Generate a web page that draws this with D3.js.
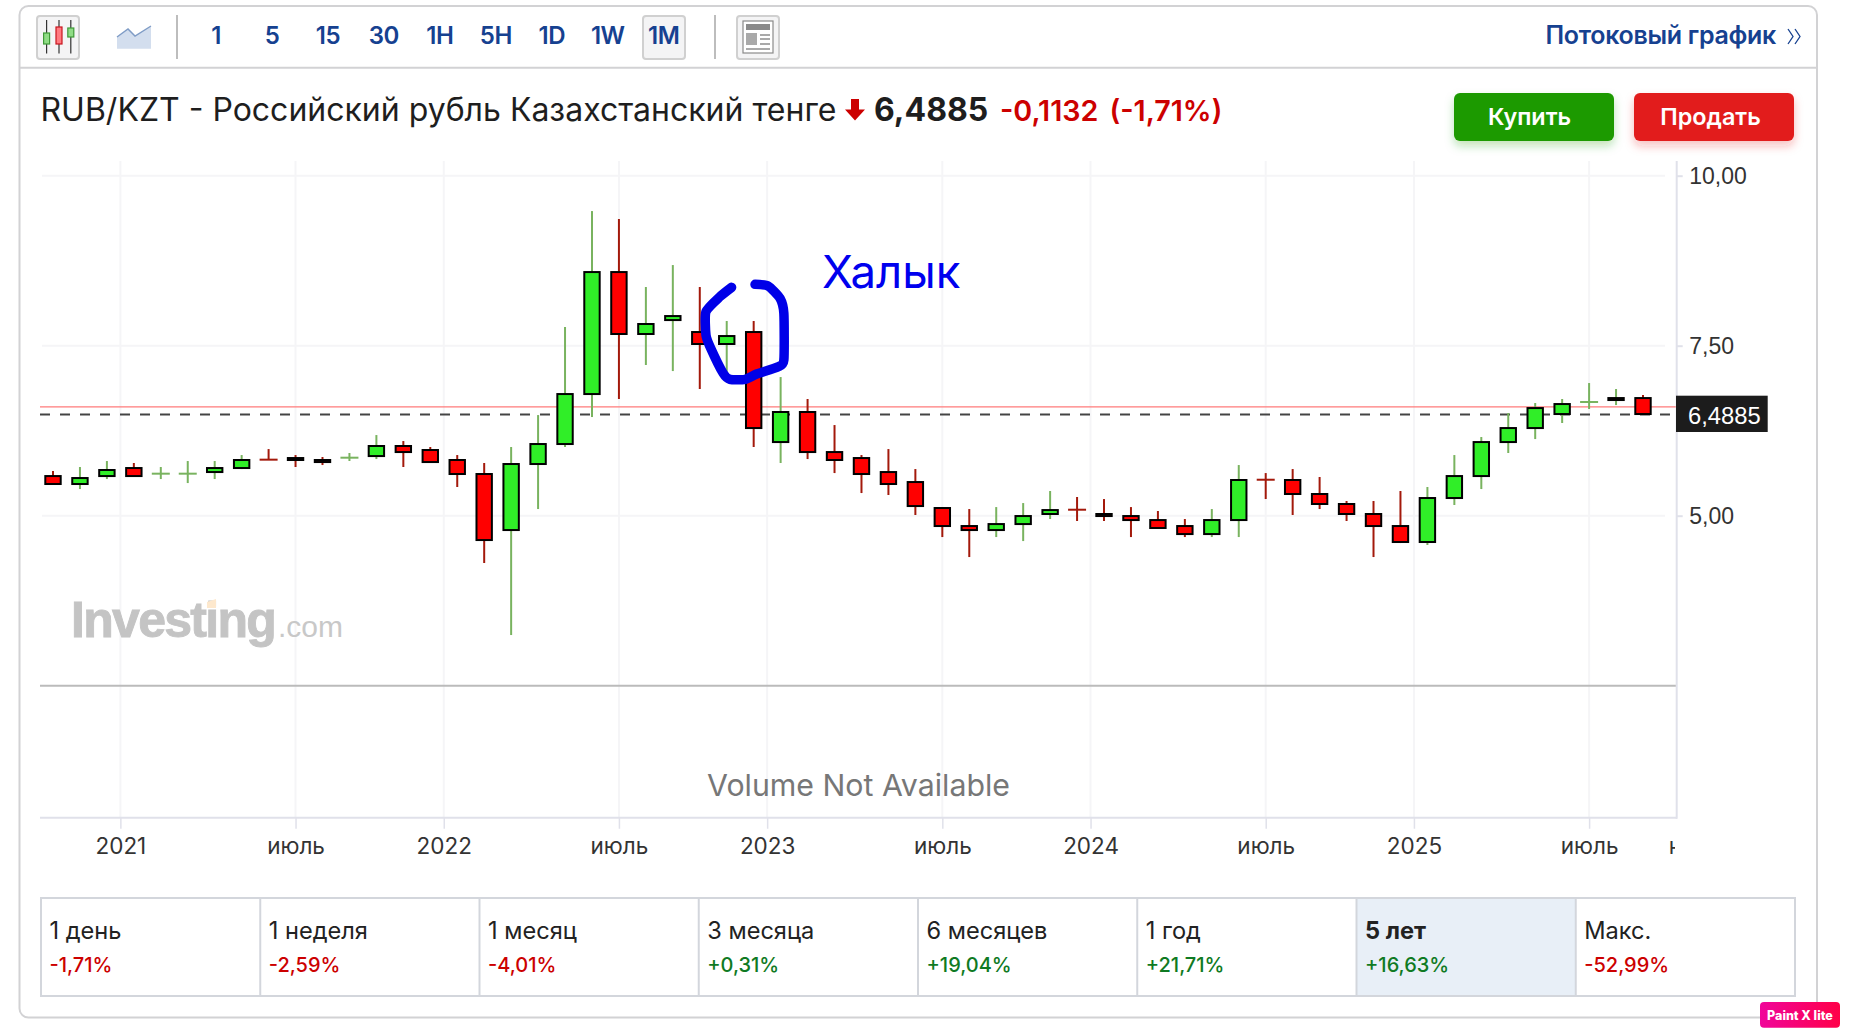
<!DOCTYPE html>
<html><head><meta charset="utf-8">
<script src="https://cdn.jsdelivr.net/npm/d3@7/dist/d3.min.js"></script>
<style>
html,body{margin:0;padding:0;background:#fff;width:1850px;height:1036px;overflow:hidden}
svg{display:block}
.axis path.domain{display:none}
</style></head><body>
<svg id="c" width="1850" height="1036" viewBox="0 0 1850 1036" font-family='"Inter","Liberation Sans",sans-serif'></svg>
<script>
const months = ["2020-10","2020-11","2020-12",
"2021-01","2021-02","2021-03","2021-04","2021-05","2021-06","2021-07","2021-08","2021-09","2021-10","2021-11","2021-12",
"2022-01","2022-02","2022-03","2022-04","2022-05","2022-06","2022-07","2022-08","2022-09","2022-10","2022-11","2022-12",
"2023-01","2023-02","2023-03","2023-04","2023-05","2023-06","2023-07","2023-08","2023-09","2023-10","2023-11","2023-12",
"2024-01","2024-02","2024-03","2024-04","2024-05","2024-06","2024-07","2024-08","2024-09","2024-10","2024-11","2024-12",
"2025-01","2025-02","2025-03","2025-04","2025-05","2025-06","2025-07","2025-08","2025-09"];
const opens = [5.583,5.466,5.583,5.701,5.616,5.616,5.642,5.701,5.826,5.848,5.819,5.851,5.877,6.025,5.966,5.819,5.613,4.789,5.760,6.054,6.789,8.583,7.672,7.877,7.701,7.525,7.701,6.083,6.525,5.936,5.848,5.642,5.495,5.113,4.848,4.789,4.877,5.025,5.090,5.025,4.995,4.936,4.848,4.730,4.936,5.531,5.525,5.319,5.172,5.025,4.848,4.613,5.260,5.583,6.083,6.289,6.495,6.670,6.701,6.730];
const closes = [5.466,5.554,5.672,5.583,5.620,5.620,5.701,5.819,5.822,5.819,5.789,5.855,6.025,5.936,5.789,5.613,4.642,5.760,6.054,6.789,8.583,7.672,7.819,7.936,7.525,7.642,6.289,6.525,5.936,5.819,5.613,5.466,5.142,4.848,4.789,4.877,4.995,5.083,5.086,4.995,4.936,4.819,4.730,4.936,5.525,5.527,5.319,5.172,5.025,4.848,4.613,5.260,5.583,6.083,6.289,6.583,6.642,6.674,6.730,6.495];
const highs = [5.657,5.716,5.804,5.775,5.716,5.804,5.804,5.892,5.980,5.892,5.863,5.922,6.186,6.098,6.010,5.892,5.775,6.010,6.480,7.775,9.480,9.363,8.363,8.686,8.363,7.863,7.863,7.039,6.716,6.333,5.892,5.980,5.686,5.127,5.098,5.127,5.186,5.363,5.275,5.245,5.127,5.069,4.951,5.098,5.745,5.627,5.686,5.569,5.216,5.216,5.363,5.422,5.892,6.157,6.510,6.657,6.716,6.951,6.863,6.775];
const lows = [5.451,5.392,5.539,5.569,5.539,5.480,5.539,5.686,5.824,5.716,5.745,5.804,5.833,5.716,5.775,5.422,4.304,3.245,5.098,6.010,6.451,6.716,7.216,7.127,6.863,7.069,6.010,5.775,5.833,5.627,5.333,5.304,5.010,4.686,4.392,4.686,4.627,4.951,4.922,4.922,4.686,4.804,4.686,4.686,4.686,5.245,5.010,5.098,4.922,4.392,4.598,4.569,5.157,5.392,5.922,6.127,6.363,6.569,6.627,6.480];
const xTickPositions = [2.5,9,14.5,21,26.5,33,38.5,45,50.5,57,61.4];
const xTickLabels = ["2021","июль","2022","июль","2023","июль","2024","июль","2025","июль","ноябрь"];
const yTicks = [5,7.5,10];
const lastPrice = 6.4885;
const bidLine = 6.6;
const timeframes = ["1","5","15","30","1H","5H","1D","1W","1M"];
const perfLabels = ["1 день","1 неделя","1 месяц","3 месяца","6 месяцев","1 год","5 лет","Макс."];
const perfValues = ["-1,71%","-2,59%","-4,01%","+0,31%","+19,04%","+21,71%","+16,63%","-52,99%"];
const circleStroke = [[25.18,8.358],[24.75,8.221],[24.23,8.0],[24.23,7.657],[24.38,7.485],[24.87,7.093],[25.12,7.005],[25.68,7.005],[26.11,7.083],[26.91,7.191],[27.12,7.289],[27.12,7.975],[26.98,8.196],[26.54,8.377],[26.05,8.402]];

const ARIAL = '"Liberation Sans",sans-serif';
const svg = d3.select("#c");
const defs = svg.append("defs");
function shadow(id,col){
  const f=defs.append("filter").attr("id",id).attr("x","-20%").attr("y","-30%").attr("width","140%").attr("height","170%");
  f.append("feDropShadow").attr("dx",0).attr("dy",5).attr("stdDeviation",5).attr("flood-color",col).attr("flood-opacity",.28);
}
shadow("sg","#1a9a05"); shadow("sr","#e21e1e");
const grad=defs.append("linearGradient").attr("id","px").attr("x1",0).attr("x2",1);
grad.append("stop").attr("offset",0).attr("stop-color","#f0069a");
grad.append("stop").attr("offset",1).attr("stop-color","#ff0048");
defs.append("clipPath").attr("id","plotx").append("rect").attr("x",0).attr("y",-5).attr("width",1675).attr("height",60);

const x = d3.scaleLinear().domain([0,59]).range([53,1643]);
const y = d3.scaleLinear().domain([5,10]).range([515.7,175.7]);
const num2 = d3.formatLocale({decimal:",",thousands:" ",grouping:[3],currency:["",""]}).format(".2f");

// frame
svg.append("rect").attr("x",19.5).attr("y",6).attr("width",1797.5).attr("height",1011.5).attr("rx",9)
  .attr("fill","#fff").attr("stroke","#d2d2d4").attr("stroke-width",2);
svg.append("line").attr("x1",19.5).attr("x2",1817).attr("y1",67.7).attr("y2",67.7).attr("stroke","#d2d2d4").attr("stroke-width",2);

// toolbar
const tb = svg.append("g");
function btn(x0,x1){tb.append("rect").attr("x",x0).attr("y",16).attr("width",x1-x0).attr("height",43).attr("rx",3).attr("fill","#f4f4f5").attr("stroke","#d0d0d0").attr("stroke-width",2);}
btn(37,79); btn(643,685); btn(737,779);
[[46.6,33,44,"#3f9a38","#8fdc85"],[59,27,44,"#c8141e","#ff7a80"],[70.8,28,37,"#3f9a38","#8fdc85"]].forEach(d=>{
  tb.append("line").attr("x1",d[0]).attr("x2",d[0]).attr("y1",20).attr("y2",53.5).attr("stroke","#333").attr("stroke-width",1.2);
  tb.append("rect").attr("x",d[0]-3).attr("y",d[1]).attr("width",6).attr("height",d[2]-d[1]).attr("fill",d[4]).attr("stroke",d[3]).attr("stroke-width",1.2);
});
tb.append("path").attr("d","M117,48.7V37L128,29L135,36L151,26V48.7Z").attr("fill","#d3deee");
tb.append("path").attr("d","M117,37L128,29L135,36L151,26").attr("fill","none").attr("stroke","#7f9cc6").attr("stroke-width",1.4);
[177,715].forEach(v=>tb.append("line").attr("x1",v).attr("x2",v).attr("y1",15).attr("y2",59).attr("stroke","#bdbdbd").attr("stroke-width",2));
// news icon
tb.append("rect").attr("x",743).attr("y",21).attr("width",30).attr("height",32).attr("fill","#fff").attr("stroke","#8a8a8a").attr("stroke-width",1.2);
tb.append("rect").attr("x",746).attr("y",24).attr("width",24).attr("height",6).attr("fill","#8a8a8a");
tb.append("rect").attr("x",746).attr("y",33).attr("width",11).attr("height",12).attr("fill","#a9a9a9");
[34,38,43].forEach(v=>tb.append("rect").attr("x",760).attr("y",v).attr("width",10).attr("height",2).attr("fill","#a9a9a9"));
tb.append("rect").attr("x",746).attr("y",48).attr("width",24).attr("height",2).attr("fill","#a9a9a9");

const tfScale = d3.scalePoint().domain(timeframes).range([216,663.7]);
tb.selectAll("text.tf").data(timeframes).join("text").attr("class","tf")
  .attr("x",d=>tfScale(d)).attr("y",44.3).attr("text-anchor","middle")
  .attr("font-size",24).attr("font-weight",600).attr("letter-spacing",-.5).attr("fill","#164190").text(d=>d);
tb.append("text").attr("x",1776).attr("y",44.3).attr("text-anchor","end").attr("font-size",25).attr("font-weight",600)
  .attr("letter-spacing",-.3).attr("fill","#164190").text("Потоковый график");
tb.append("path").attr("d","M1788,29L1793,36.5L1788,44M1795,29L1800,36.5L1795,44").attr("fill","none").attr("stroke","#164190").attr("stroke-width",1.3);

// headline
const hd = svg.append("g");
hd.append("text").attr("x",40.5).attr("y",120.7).attr("font-size",32).attr("fill","#1e1e1e")
  .text("RUB/KZT - Российский рубль Казахстанский тенге");
hd.append("path").attr("d","M851,99H859V109.5H865L855,120.5L845,109.5H851Z").attr("fill","#cc0000");
hd.append("text").attr("x",874).attr("y",120.7).attr("font-size",32).attr("font-weight",700).attr("fill","#1e1e1e").text("6,4885");
hd.append("text").attr("x",1000).attr("y",120.7).attr("font-size",28.7).attr("font-weight",600).attr("fill","#cc0000").text("-0,1132");
hd.append("text").attr("x",1109.5).attr("y",120.7).attr("font-size",28.7).attr("font-weight",600).attr("fill","#cc0000").text("(-1,71%)");
[[1454,"#1a9a05","sg","Купить",-4.5],[1634,"#e21e1e","sr","Продать",-3.5]].forEach(d=>{
  hd.append("rect").attr("x",d[0]).attr("y",93).attr("width",160).attr("height",48).attr("rx",6).attr("fill",d[1]).attr("filter",`url(#${d[2]})`);
  hd.append("text").attr("x",d[0]+80+d[4]).attr("y",125).attr("text-anchor","middle").attr("font-size",23.4).attr("font-weight",600).attr("fill","#fff").text(d[3]);
});

// grid
const plot = svg.append("g");
plot.selectAll("line.gv").data(xTickPositions.slice(0,10)).join("line").attr("class","gv")
  .attr("x1",d=>x(d)).attr("x2",d=>x(d)).attr("y1",161).attr("y2",817).attr("stroke","#f5f5f7").attr("stroke-width",2);
plot.selectAll("line.gh").data(yTicks).join("line").attr("class","gh")
  .attr("x1",42).attr("x2",1665).attr("y1",d=>y(d)).attr("y2",d=>y(d)).attr("stroke","#f5f5f7").attr("stroke-width",2);

// watermark
plot.append("text").attr("x",71).attr("y",636.7).attr("font-size",50).attr("font-weight",700).attr("font-family",ARIAL)
  .attr("letter-spacing",-1.7).attr("fill","#c4c4c4").attr("stroke","#c4c4c4").attr("stroke-width",.9).text("Investing");
plot.append("path").attr("d","M207,602L216,599V608H207Z").attr("fill","#fde8cd");
plot.append("text").attr("x",278).attr("y",636.7).attr("font-size",30).attr("font-family",ARIAL).attr("fill","#c8c8c8").text(".com");

// reference lines
plot.append("line").attr("x1",40).attr("x2",1676).attr("y1",y(bidLine)).attr("y2",y(bidLine)).attr("stroke","#ff7b7b").attr("stroke-width",1.2);
plot.append("line").attr("x1",40).attr("x2",1670).attr("y1",y(lastPrice)).attr("y2",y(lastPrice)).attr("stroke","#444").attr("stroke-width",2).attr("stroke-dasharray","10 10");

// candles
const candles = months.map((m,i)=>({m,i,o:opens[i],c:closes[i],h:highs[i],l:lows[i]}));
const up = d=>d.c>=d.o;
const doji = d=>Math.abs(d.c-d.o)<0.01;
const wickCol = d=>up(d)?"#79b35f":"#a3190b";
const gc = plot.selectAll("g.candle").data(candles).join("g").attr("class","candle");
gc.append("line").attr("x1",d=>x(d.i)).attr("x2",d=>x(d.i)).attr("y1",d=>y(d.h)).attr("y2",d=>y(d.l))
  .attr("stroke",wickCol).attr("stroke-width",2);
gc.filter(d=>doji(d)).append("line").attr("x1",d=>x(d.i)-9).attr("x2",d=>x(d.i)+9)
  .attr("y1",d=>y((d.o+d.c)/2)).attr("y2",d=>y((d.o+d.c)/2)).attr("stroke",wickCol).attr("stroke-width",2);
gc.filter(d=>!doji(d)).append("rect").attr("x",d=>x(d.i)-7.7).attr("width",15.4)
  .attr("y",d=>y(Math.max(d.o,d.c))).attr("height",d=>Math.abs(y(d.o)-y(d.c)))
  .attr("fill",d=>up(d)?"#30ee28":"#ff0000").attr("stroke","#000").attr("stroke-width",2);

// pane divider & axes
plot.append("line").attr("x1",40).attr("x2",1676).attr("y1",685.7).attr("y2",685.7).attr("stroke","#bbbbbb").attr("stroke-width",2);
plot.append("text").attr("x",858.5).attr("y",796).attr("text-anchor","middle").attr("font-size",30.3).attr("fill","#777").text("Volume Not Available");

const xAxis = plot.append("g").attr("class","axis").attr("transform","translate(0,817.7)").attr("clip-path","url(#plotx)")
  .call(d3.axisBottom(x).tickValues(xTickPositions).tickSize(11).tickPadding(14).tickFormat((d,i)=>xTickLabels[i]));
xAxis.selectAll("line").attr("stroke","#e0e1ea").attr("stroke-width",1.5);
xAxis.selectAll("g.tick").filter(d=>d>60).select("line").remove();
xAxis.selectAll("text").attr("font-size",22.5).attr("font-family",'"Inter",sans-serif').attr("fill","#333").attr("dy",0).attr("y",36.3);
plot.append("line").attr("x1",40).attr("x2",1677).attr("y1",817.7).attr("y2",817.7).attr("stroke","#e0e1ea").attr("stroke-width",2);
plot.append("line").attr("x1",1676.7).attr("x2",1676.7).attr("y1",161).attr("y2",818.7).attr("stroke","#e0e1ea").attr("stroke-width",2);

const yAxis = plot.append("g").attr("class","axis").attr("transform","translate(1676.7,0)")
  .call(d3.axisRight(y).tickValues(yTicks).tickSize(6).tickPadding(7).tickFormat(num2));
yAxis.selectAll("line").attr("stroke","#e0e1ea").attr("stroke-width",2);
yAxis.selectAll("text").attr("font-size",23).attr("font-family",ARIAL).attr("fill","#333").attr("dy","0.36em").attr("x",12.5);

// price tag
plot.append("rect").attr("x",1676).attr("y",395.7).attr("width",91.7).attr("height",36.3).attr("fill","#1c1c1c");
plot.append("text").attr("x",1688).attr("y",424.3).attr("font-size",23.8).attr("font-family",ARIAL).attr("fill","#fff").text("6,4885");

// annotation
plot.append("path").datum(circleStroke)
  .attr("d",d3.line().x(d=>x(d[0])).y(d=>y(d[1])).curve(d3.curveCardinal.tension(.4)))
  .attr("fill","none").attr("stroke","#0000e8").attr("stroke-width",9.5).attr("stroke-linecap","round").attr("stroke-linejoin","round");
plot.append("text").attr("x",822).attr("y",288).attr("font-size",45.5).attr("fill","#0000ee").text("Халык");

// performance strip
const strip = svg.append("g");
const px = d3.scaleLinear().domain([0,8]).range([41,1795]);
strip.append("rect").attr("x",px(6)).attr("y",898).attr("width",px(7)-px(6)).attr("height",98).attr("fill","#e8eff7");
strip.append("rect").attr("x",41).attr("y",898).attr("width",1754).attr("height",98).attr("fill","none").attr("stroke","#d3d6dc").attr("stroke-width",2);
strip.selectAll("line.d").data(d3.range(1,8)).join("line").attr("class","d").attr("x1",d=>px(d)).attr("x2",d=>px(d)).attr("y1",898).attr("y2",996).attr("stroke","#d3d6dc").attr("stroke-width",2);
strip.selectAll("text.l").data(perfLabels).join("text").attr("class","l").attr("x",(d,i)=>px(i)+8.5).attr("y",938.5)
  .attr("font-size",23.6).attr("font-weight",(d,i)=>i==6?700:400).attr("fill","#222").text(d=>d);
strip.selectAll("text.v").data(perfValues).join("text").attr("class","v").attr("x",(d,i)=>px(i)+8.5).attr("y",971.7)
  .attr("font-size",20).attr("font-weight",500).attr("fill",d=>d[0]=="+"?"#0f7a23":"#cc0000").text(d=>d);

// badge
svg.append("rect").attr("x",1760).attr("y",1002).attr("width",80).attr("height",25.7).attr("rx",4).attr("fill","url(#px)");
svg.append("text").attr("x",1800).attr("y",1019.5).attr("text-anchor","middle").attr("font-size",12.5).attr("font-weight",800).attr("fill","#fff").text("Paint X lite");
</script>
</body></html>
